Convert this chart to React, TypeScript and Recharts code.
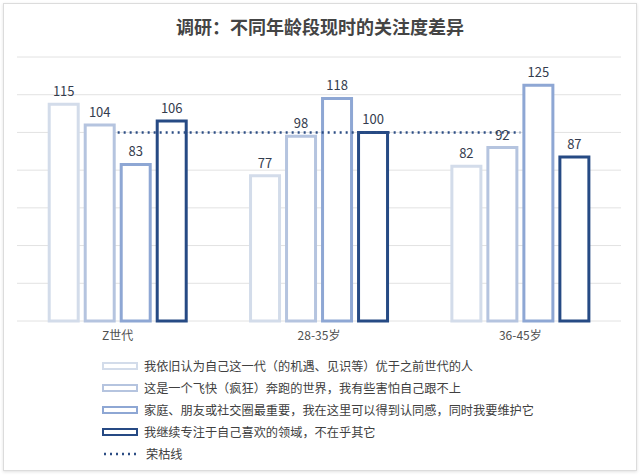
import React from 'react';
import { ComposedChart, Bar, Line, XAxis, YAxis, CartesianGrid, LabelList } from 'recharts';

const categories = ['Z世代', '28-35岁', '36-45岁'];
const seriesNames = [
    '我依旧认为自己这一代（的机遇、见识等）优于之前世代的人',
    '这是一个飞快（疯狂）奔跑的世界，我有些害怕自己跟不上',
    '家庭、朋友或社交圈最重要，我在这里可以得到认同感，同时我要维护它',
    '我继续专注于自己喜欢的领域，不在乎其它',
];
const s1 = [115, 77, 82];
const s2 = [104, 98, 92];
const s3 = [83, 118, 125];
const s4 = [106, 100, 87];
const baseline = [100, 100, 100];
const lineName = '荣枯线';
const yTicks = [0, 20, 40, 60, 80, 100, 120, 140];

const colors = ['#d3dcea', '#b5c4df', '#8ea7d4', '#264a84'];
const lineColor = '#2c4d84';
const font = '"Noto Sans CJK SC", "Noto Sans", sans-serif';

const data = categories.map((c, i) => ({
    name: c,
    a: s1[i],
    b: s2[i],
    c: s3[i],
    d: s4[i],
    line: baseline[i],
}));

const keys = ['a', 'b', 'c', 'd'];

// legend drawn as plain html below the plot
const LegendBlock = () => (
    <div
        style={{
            position: 'absolute',
            left: 102,
            top: 355,
            fontFamily: font,
            fontSize: 12.2,
            color: '#404040',
        }}
    >
        {seriesNames.map((n, i) => (
            <div key={n} style={{ display: 'flex', alignItems: 'center', height: 22 }}>
                <span
                    style={{
                        display: 'inline-block',
                        width: 32,
                        height: 4,
                        border: `2px solid ${colors[i]}`,
                        background: '#fff',
                        marginRight: 6,
                    }}
                />
                <span>{n}</span>
            </div>
        ))}
        <div style={{ display: 'flex', alignItems: 'center', height: 22 }}>
            <svg width={36} height={6} style={{ marginRight: 6 }}>
                <line x1={2} y1={3} x2={36} y2={3} stroke={lineColor} strokeWidth={2.5} strokeDasharray="2 4" />
            </svg>
            <span style={{ marginLeft: 2 }}>{lineName}</span>
        </div>
    </div>
);

export default function App() {
    return (
        <div style={{ position: 'fixed', left: 0, top: 0, width: 640, height: 476, background: '#fff' }}>
            <div
                style={{
                    position: 'absolute',
                    left: 3,
                    top: 3,
                    width: 632,
                    height: 466,
                    border: '1px solid #dcdcdc',
                    boxShadow: '0 1px 3px rgba(0,0,0,0.12)',
                }}
            />
            <div
                style={{
                    position: 'absolute',
                    top: 13,
                    left: 0,
                    width: 640,
                    textAlign: 'center',
                    fontFamily: font,
                    fontSize: 18,
                    fontWeight: 'bold',
                    color: '#444',
                }}
            >
                调研：不同年龄段现时的关注度差异
            </div>
            <div style={{ position: 'absolute', left: 0, top: 0 }}>
                <ComposedChart
                    width={640}
                    height={476}
                    data={data}
                    margin={{ top: 57, right: 19, bottom: 125, left: 17 }}
                    barGap={7}
                    barCategoryGap="16%"
                >
                    <CartesianGrid vertical={false} stroke="#e2e2e2" />
                    <XAxis
                        dataKey="name"
                        axisLine={false}
                        tickLine={false}
                        tick={{ fill: '#505050', fontSize: 12, fontFamily: font }}
                        tickMargin={4}
                    />
                    <YAxis hide domain={[0, 140]} ticks={yTicks} />
                    {keys.map((k, i) => (
                        <Bar
                            key={k}
                            dataKey={k}
                            name={seriesNames[i]}
                            fill="#fff"
                            stroke={colors[i]}
                            strokeWidth={3}
                            isAnimationActive={false}
                        >
                            <LabelList
                                dataKey={k}
                                position="top"
                                offset={8}
                                fill="#343c4e"
                                fontSize={13}
                                fontFamily={font}
                            />
                        </Bar>
                    ))}
                    <Line
                        dataKey="line"
                        name={lineName}
                        stroke={lineColor}
                        strokeWidth={2.5}
                        strokeDasharray="2 4"
                        dot={false}
                        activeDot={false}
                        isAnimationActive={false}
                    />
                </ComposedChart>
            </div>
            <LegendBlock />
        </div>
    );
}
